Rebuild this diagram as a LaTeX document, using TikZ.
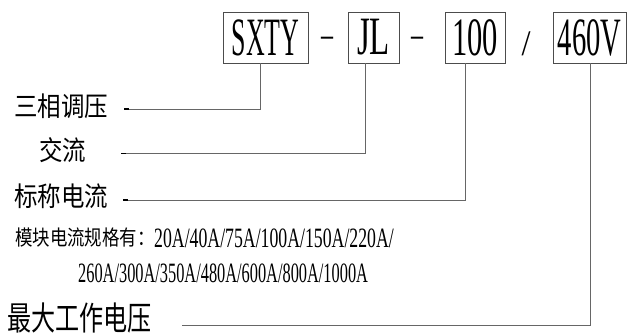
\documentclass[tikz,border=0pt]{standalone}
\usepackage{fontspec}
\setmainfont{Liberation Serif}
\newfontfamily\cjk{Noto Sans CJK SC}
\newcommand{\latx}[3]{\scalebox{#1}[1]{\fontsize{#2}{#2}\selectfont #3}}
\newcommand{\cjkx}[3]{\scalebox{#1}[1]{\cjk\fontsize{#2}{#2}\selectfont #3}}
\tikzset{
  codebox/.style={draw=black!70, line width=0.8pt, inner sep=0pt, minimum height=51pt},
  lbl/.style={inner sep=0pt, text=black},
  lead/.style={draw=black!60, line width=0.8pt},
  tick/.style={draw=black, line width=1.6pt}
}
\begin{document}
\begin{tikzpicture}[x=1pt,y=-1pt]
\useasboundingbox (0,0) rectangle (627,336);
% code boxes
\node[codebox, minimum width=85pt] (sxty) at (265.5,37.5) {\latx{0.48}{54}{SXTY}};
\node[codebox, minimum width=51pt] (jl) at (373.5,37.5) {\latx{0.61}{54}{JL}};
\node[codebox, minimum width=60pt] (hun) at (475,37.5) {\latx{0.565}{54}{100}};
\node[codebox, minimum width=73pt] (volt) at (589.5,37.5) {\latx{0.53}{54}{460V}};
% separators
\node[lbl] (d1) at (327,42.5) {\scalebox{0.3}[0.5]{\fontsize{80}{80}\selectfont –}};
\node[lbl] (d2) at (417,42.5) {\scalebox{0.3}[0.5]{\fontsize{80}{80}\selectfont –}};
\node[lbl] (sl) at (526,43.5) {\scalebox{0.9}[1]{\fontsize{36}{36}\selectfont /}};
% labels
\node[lbl] (t1) at (61,106.5) {\cjkx{0.87}{27}{三相调压}};
\node[lbl] (t2) at (62.5,150) {\cjkx{0.87}{27}{交流}};
\node[lbl] (t3) at (61,196) {\cjkx{0.87}{27}{标称电流}};
\node[lbl, anchor=west] (t4a) at (15,238) {\cjkx{0.83}{21}{模块电流规格有：}};
\node[lbl, anchor=west] (t4b) at (154,238) {\latx{0.634}{28}{20A/40A/75A/100A/150A/220A/}};
\node[lbl, anchor=west] (t4c) at (78,273.5) {\latx{0.584}{28}{260A/300A/350A/480A/600A/800A/1000A}};
\node[lbl] (t5) at (79.5,318) {\cjkx{0.73}{33}{最大工作电压}};
% leader ends
\coordinate (e1) at (124,109);
\coordinate (e2) at (121,153.7);
\coordinate (e3) at (123,200);
\coordinate (e4) at (182,325);
% leaders
\draw[lead] ([xshift=-5.5pt]sxty.south) |- (e1);
\draw[lead] ([xshift=-8.5pt]jl.south) |- (e2);
\draw[lead] ([xshift=-10pt]hun.south) |- (e3);
\draw[lead] ([xshift=0.5pt]volt.south) |- (e4);
\draw[tick] (e1) -- ++(5,0);
\draw[tick] (e2) -- ++(5,0);
\draw[tick] (e3) -- ++(5,0);
\end{tikzpicture}
\end{document}
